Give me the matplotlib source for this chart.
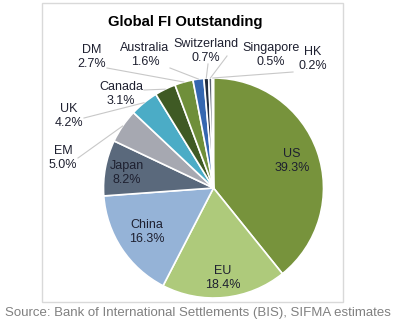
import matplotlib
matplotlib.use("Agg")
import matplotlib.pyplot as plt
from matplotlib.patches import Rectangle
import numpy as np

plt.rcParams['font.family'] = ['Liberation Sans', 'DejaVu Sans']

regions = ['US', 'EU', 'China', 'Japan', 'EM', 'UK', 'Canada', 'DM',
           'Australia', 'Switzerland', 'Singapore', 'HK']
shares = [39.3, 18.4, 16.3, 8.2, 5.0, 4.2, 3.1, 2.7, 1.6, 0.7, 0.5, 0.2]
colors = ['#77933C', '#AECA7B', '#95B3D7', '#5A697C', '#A6A8B1', '#4BACC6',
          '#3F5A24', '#6F8F3A', '#3567B0', '#222C3E', '#5A6270', '#C8C8C8']

W, H = 396, 327
cx, cy, R = 213.5, H - 188, 110

# label block centres (pixels from top-left) and where the leader line starts
inside = {'US': (292, 161), 'EU': (223, 278), 'China': (147, 232), 'Japan': (127, 173)}
outside = {
    'EM': ((63, 158), (78, 158)),
    'UK': ((69, 116), (84, 118)),
    'Canada': ((121, 94), (144, 90)),
    'DM': ((92, 57), (107, 68)),
    'Australia': ((145, 55), (170, 68)),
    'Switzerland': ((206, 51), (208, 64)),
    'Singapore': ((271, 55), (227, 56)),
    'HK': ((313, 59), (293, 72)),
}

fig = plt.figure(figsize=(W / 100, H / 100), dpi=100)
ax = fig.add_axes([0, 0, 1, 1])

wedges, _ = ax.pie(shares, colors=colors, startangle=90, counterclock=False,
                   center=(cx, cy), radius=R,
                   wedgeprops=dict(edgecolor='white', linewidth=1.2))

ax.set_xlim(0, W)
ax.set_ylim(0, H)
ax.set_aspect('equal')
ax.axis('off')

ax.add_patch(Rectangle((42, H - 302), 301, 299, fill=False,
                       edgecolor='#D9D9D9', linewidth=1.0))

txt_color = '#1E2030'
fs = 9
for name, val, w in zip(regions, shares, wedges):
    label = f"{name}\n{val:.1f}%"
    if name in inside:
        x, y = inside[name]
        ax.text(x, H - y, label, ha='center', va='center', fontsize=fs,
                color=txt_color, linespacing=1.15)
    else:
        (x, y), (lx, ly) = outside[name]
        ax.text(x, H - y, label, ha='center', va='center', fontsize=fs,
                color=txt_color, linespacing=1.15)
        mid = np.deg2rad((w.theta1 + w.theta2) / 2)
        ex = cx + R * np.cos(mid)
        ey = cy + R * np.sin(mid)
        ax.plot([lx, ex], [H - ly, ey], color='#C8C8C8', linewidth=0.8)

ax.text(185, H - 22, 'Global FI Outstanding', ha='center', va='center',
        fontsize=10.7, fontweight='bold', color='black')

ax.text(W / 2, H - 313, 'Source: Bank of International Settlements (BIS), SIFMA estimates',
        ha='center', va='center', fontsize=9.5, color='#808080')

fig.savefig('out.png', dpi=100)
